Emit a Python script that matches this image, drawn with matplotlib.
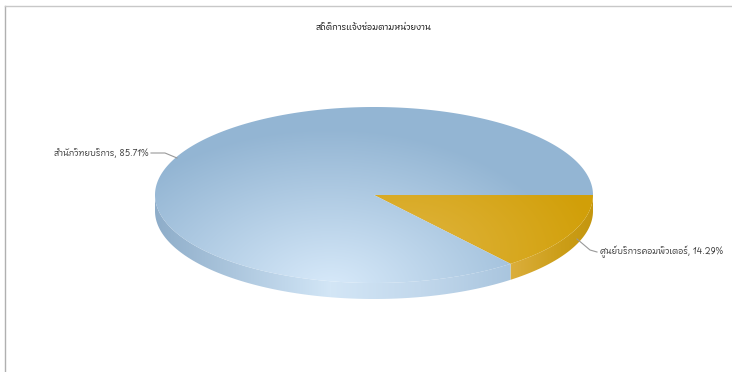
import numpy as np
import matplotlib
matplotlib.use("Agg")
import matplotlib.pyplot as plt
from matplotlib import font_manager
from matplotlib.ft2font import FT2Font
from matplotlib.patches import Polygon
from matplotlib.colors import to_rgb

title = "สถิติการแจ้งซ่อมตามหน่วยงาน"
categories = ["ศูนย์บริการคอมพิวเตอร์", "สำนักวิทยบริการ"]
counts = [1, 6]
percent_labels = ["14.29%", "85.71%"]


def thai_family():
    best = None
    for f in font_manager.fontManager.ttflist:
        try:
            if 0x0E2A in FT2Font(f.fname).get_charmap():
                if best is None or "Sans" in f.name:
                    best = f.name
        except Exception:
            pass
    return best


fam = thai_family()
families = ([fam] if fam else []) + ["DejaVu Sans"]

W, H = 732, 372
fig = plt.figure(figsize=(W / 100, H / 100), dpi=100)
ax = fig.add_axes([0, 0, 1, 1])
ax.set_xlim(0, W)
ax.set_ylim(H, 0)
ax.axis("off")

# frame
ax.plot([5, 5], [6, H], color="#b0b0b0", lw=1)
ax.plot([5, W], [6, 6], color="#c8c8c8", lw=1)

cx, cy, rx, ry, depth = 374, 195, 219, 88, 16


def rim(theta):
    return cx + rx * np.cos(theta), cy - ry * np.sin(theta)


yy, xx = np.mgrid[0:H, 0:W]


def radial_img(c_in, c_out, center, scale):
    d = np.hypot((xx - center[0]) / scale[0], (yy - center[1]) / scale[1])
    t = np.clip(d, 0, 1)[..., None]
    a = np.array(to_rgb(c_in))
    b = np.array(to_rgb(c_out))
    return a * (1 - t) + b * t


def horiz_img(stops):
    pos = [s[0] for s in stops]
    cols = np.array([to_rgb(s[1]) for s in stops])
    out = np.empty((H, W, 3))
    for k in range(3):
        out[..., k] = np.interp(xx, pos, cols[:, k])
    return out


total = sum(counts)
fracs = [c / total for c in counts]
start = 0.0
slices = []
for frac in fracs:
    end = start - frac * 2 * np.pi
    slices.append((start, end))
    start = end

side_styles = [
    [(0, "#dbae3c"), (511, "#dbae3c"), (560, "#cc9e18"), (593, "#c4960e")],
    [(155, "#8eadc9"), (300, "#c6dcef"), (330, "#d3e6f6"), (420, "#c2d8ec"), (511, "#a9c5de"), (W, "#a9c5de")],
]
top_styles = [
    ("#e0b540", "#d19f08", (400, 250), (200, 120)),
    ("#d8eafa", "#93b5d3", (330, 288), (250, 160)),
]

# side walls (only the front half is visible)
for (a0, a1), sstyle in zip(slices, side_styles):
    a_min, a_max = min(a0, a1), max(a0, a1)
    segs = []
    for shift in (0, 2 * np.pi):
        lo = max(a_min + shift, -np.pi)
        hi = min(a_max + shift, 0.0)
        if hi > lo:
            segs.append((lo, hi))
    for lo, hi in segs:
        th = np.linspace(lo, hi, 120)
        x, y = rim(th)
        pts = np.concatenate([np.c_[x, y], np.c_[x[::-1], y[::-1] + depth]])
        poly = Polygon(pts, closed=True, facecolor="none", edgecolor="none")
        ax.add_patch(poly)
        im = ax.imshow(horiz_img(sstyle), extent=(0, W, H, 0), zorder=1, interpolation="bilinear")
        im.set_clip_path(poly)

# top faces
for (a0, a1), (cin, cout, cen, sc) in zip(slices, top_styles):
    th = np.linspace(a0, a1, 300)
    x, y = rim(th)
    pts = np.concatenate([[[cx, cy]], np.c_[x, y]])
    poly = Polygon(pts, closed=True, facecolor="none", edgecolor="none")
    ax.add_patch(poly)
    im = ax.imshow(radial_img(cin, cout, cen, sc), extent=(0, W, H, 0), zorder=2, interpolation="bilinear")
    im.set_clip_path(poly)

ax.set_xlim(0, W)
ax.set_ylim(H, 0)

# title
ax.text(374, 27, title, ha="center", va="center", fontsize=6.3, fontweight="bold",
        color="#222222", family=families)

# data labels with connectors
lbl_yellow = f"{categories[0]}, {percent_labels[0]}"
lbl_blue = f"{categories[1]}, {percent_labels[1]}"
ax.plot([577, 590, 597], [239, 250, 252], color="#999999", lw=0.8, zorder=3)
ax.text(600, 252, lbl_yellow, ha="left", va="center", fontsize=6.2, color="#444444",
        family=families)
ax.plot([151, 165, 177], [153, 153, 158], color="#999999", lw=0.8, zorder=3)
ax.text(148, 153, lbl_blue, ha="right", va="center", fontsize=6.2, color="#444444",
        family=families)

fig.savefig("out.png", dpi=100)
